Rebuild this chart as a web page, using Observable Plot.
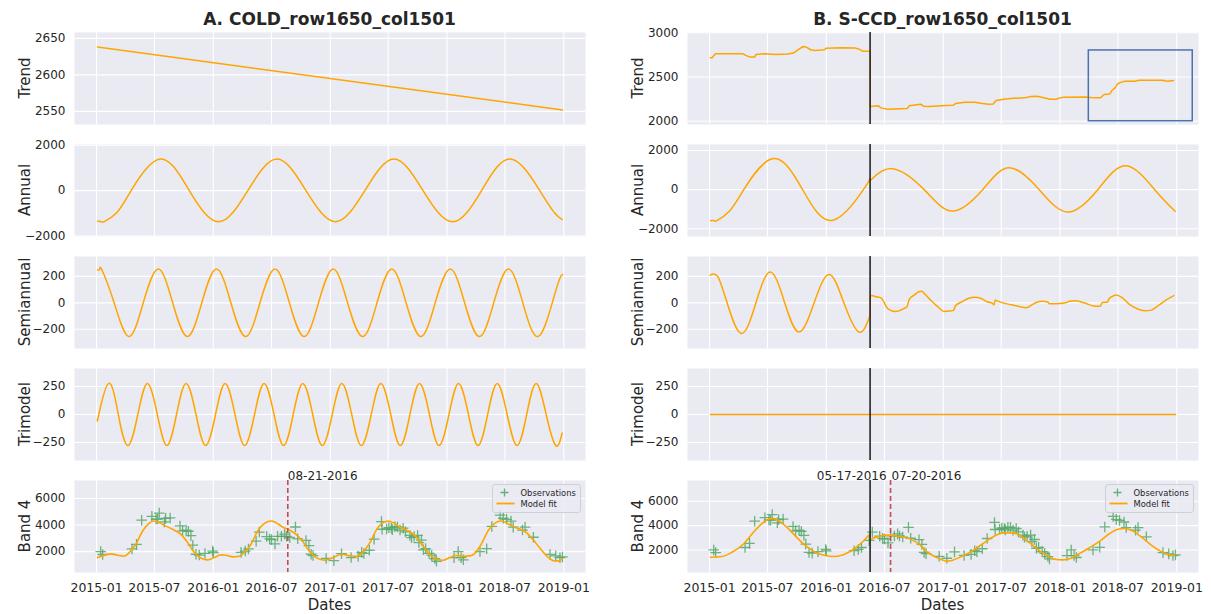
<!DOCTYPE html>
<html><head><meta charset="utf-8">
<script src="https://cdn.jsdelivr.net/npm/d3@7"></script>
<script src="https://cdn.jsdelivr.net/npm/@observablehq/plot@0.6"></script>
<style>
body{margin:0;background:#fff;font-family:"DejaVu Sans",sans-serif;}
#root{position:relative;width:1211px;height:614px;overflow:hidden;background:#fff;}
.abs{position:absolute;white-space:nowrap;color:#262626;}
.ttl{font-weight:bold;font-size:17px;line-height:22px;transform:translateX(-50%);}
.ylab{font-size:15px;line-height:18px;transform:translate(-50%,-50%) rotate(-90deg);}
.xlab{font-size:15px;line-height:18px;transform:translate(-50%,-50%);}
</style></head>
<body><div id="root"></div>
<script>
// ---------- data ----------
const xTicks = ["2015-01-01","2015-07-01","2016-01-01","2016-07-01","2017-01-01","2017-07-01","2018-01-01","2018-07-01","2019-01-01"];
const titles = ["A. COLD_row1650_col1501", "B. S-CCD_row1650_col1501"];
const rowLabels = ["Trend","Annual","Semiannual","Trimodel","Band 4"];
const ticksTrendA = [2550,2600,2650];
const ticksTrendB = [2000,2500,3000];
const ticksAnnual = [-2000,0,2000];
const ticksSemi = [-200,0,200];
const ticksTri = [-250,0,250];
const ticksBand = [2000,4000,6000];

const trendA = [["2015-01-04",2638],["2018-12-28",2552]];
const annualA = [["2015-01-04",-1342],["2015-01-11",-1363],["2015-01-18",-1370],["2015-01-25",-1363],["2015-03-05",-975],["2015-04-19",0],["2015-07-19",1390],["2015-10-18",0],["2016-01-18",-1370],["2016-04-18",0],["2016-07-18",1390],["2016-10-17",0],["2017-01-17",-1370],["2017-04-19",0],["2017-07-19",1390],["2017-10-18",0],["2018-01-18",-1370],["2018-04-19",0],["2018-07-19",1390],["2018-10-18",0],["2018-12-03",-975],["2018-12-27",-1275]];
const semiA = [["2015-01-04",248],["2015-01-11",255],["2015-01-18",248],["2015-02-25",0],["2015-04-12",-255],["2015-05-27",0],["2015-07-13",255],["2015-08-27",0],["2015-10-12",-255],["2015-11-26",0],["2016-01-11",255],["2016-02-25",0],["2016-04-11",-255],["2016-05-26",0],["2016-07-12",255],["2016-08-26",0],["2016-10-11",-255],["2016-11-25",0],["2017-01-10",255],["2017-02-24",0],["2017-04-12",-255],["2017-05-27",0],["2017-07-12",255],["2017-08-26",0],["2017-10-11",-255],["2017-11-25",0],["2018-01-11",255],["2018-02-25",0],["2018-04-12",-255],["2018-05-27",0],["2018-07-12",255],["2018-08-26",0],["2018-10-12",-255],["2018-11-26",0],["2018-12-19",180],["2018-12-28",215]];
const triA = [["2015-01-04",-40],["2015-01-08",0],["2015-02-08",278],["2015-03-10",0],["2015-04-09",-278],["2015-05-10",0],["2015-06-09",278],["2015-07-10",0],["2015-08-09",-278],["2015-09-08",0],["2015-10-08",278],["2015-11-08",0],["2015-12-08",-278],["2016-01-08",0],["2016-02-07",278],["2016-03-09",0],["2016-04-08",-278],["2016-05-09",0],["2016-06-08",278],["2016-07-09",0],["2016-08-08",-278],["2016-09-07",0],["2016-10-07",278],["2016-11-07",0],["2016-12-07",-278],["2017-01-07",0],["2017-02-06",278],["2017-03-09",0],["2017-04-08",-278],["2017-05-09",0],["2017-06-08",278],["2017-07-09",0],["2017-08-08",-278],["2017-09-07",0],["2017-10-07",278],["2017-11-07",0],["2017-12-07",-278],["2018-01-07",0],["2018-02-06",278],["2018-03-09",0],["2018-04-08",-278],["2018-05-08",0],["2018-06-07",278],["2018-07-08",0],["2018-08-08",-278],["2018-09-07",0],["2018-10-07",278],["2018-11-07",0],["2018-12-07",-278],["2018-12-27",-165]];
const modelA = [["2015-01-04",1550],["2015-01-30",1750],["2015-02-15",1825],["2015-03-08",1725],["2015-03-29",1650],["2015-04-13",1925],["2015-05-04",2550],["2015-05-25",3550],["2015-06-13",4100],["2015-06-27",4300],["2015-07-11",4250],["2015-08-01",3975],["2015-08-27",3675],["2015-09-22",3300],["2015-10-13",2675],["2015-11-03",1925],["2015-11-24",1500],["2015-12-15",1375],["2016-01-04",1550],["2016-01-25",1750],["2016-02-10",1725],["2016-03-02",1600],["2016-03-23",1650],["2016-04-07",1925],["2016-04-28",2550],["2016-05-19",3550],["2016-06-09",4125],["2016-06-30",4300],["2016-07-15",4175],["2016-08-05",3850],["2016-08-26",3625],["2016-09-16",3300],["2016-10-07",2750],["2016-10-28",2000],["2016-11-18",1550],["2016-12-14",1350],["2017-01-10",1550],["2017-02-05",1800],["2017-03-03",1675],["2017-03-24",1625],["2017-04-14",2000],["2017-05-05",2675],["2017-05-26",3675],["2017-06-15",4175],["2017-07-01",4300],["2017-07-17",4175],["2017-08-06",3850],["2017-09-01",3550],["2017-09-27",3100],["2017-10-18",2425],["2017-11-08",1750],["2017-11-29",1425],["2017-12-20",1350],["2018-01-09",1550],["2018-01-30",1700],["2018-02-20",1650],["2018-03-13",1675],["2018-03-28",1850],["2018-04-18",2550],["2018-05-09",3550],["2018-05-30",4125],["2018-06-20",4300],["2018-07-10",4100],["2018-08-05",3800],["2018-08-31",3550],["2018-09-26",2925],["2018-10-17",2300],["2018-11-12",1600],["2018-12-03",1300],["2018-12-16",1300],["2018-12-27",1425]];

const trendB = [["2015-01-03",2717],["2015-01-09",2717],["2015-01-19",2762],["2015-04-16",2762],["2015-04-24",2745],["2015-05-07",2725],["2015-05-22",2725],["2015-05-26",2755],["2015-06-21",2762],["2015-07-28",2755],["2015-09-02",2760],["2015-09-20",2770],["2015-10-02",2800],["2015-10-14",2830],["2015-10-23",2845],["2015-11-01",2835],["2015-11-13",2808],["2015-11-25",2800],["2015-12-26",2808],["2016-01-01",2826],["2016-02-18",2830],["2016-03-31",2828],["2016-04-12",2815],["2016-04-24",2792],["2016-05-15",2792],["2016-05-17",2790],["2016-05-17",2166],["2016-05-25",2170],["2016-06-12",2174],["2016-06-20",2151],["2016-07-12",2136],["2016-09-10",2143],["2016-09-16",2174],["2016-10-22",2192],["2016-10-31",2170],["2016-11-16",2166],["2017-01-09",2177],["2017-01-31",2180],["2017-02-08",2200],["2017-03-10",2215],["2017-04-09",2215],["2017-05-04",2200],["2017-05-22",2192],["2017-06-06",2196],["2017-06-15",2234],["2017-07-09",2249],["2017-08-08",2260],["2017-09-13",2264],["2017-10-02",2279],["2017-10-20",2283],["2017-11-01",2275],["2017-12-01",2249],["2017-12-19",2249],["2017-12-31",2264],["2018-01-12",2272],["2018-03-20",2275],["2018-04-19",2264],["2018-05-07",2264],["2018-05-19",2302],["2018-06-06",2309],["2018-06-12",2347],["2018-06-22",2377],["2018-06-30",2423],["2018-07-12",2442],["2018-07-24",2453],["2018-08-24",2453],["2018-09-05",2464],["2018-11-16",2464],["2018-12-04",2453],["2018-12-22",2460]];
const annualB1 = [["2015-01-04",-1575],["2015-01-10",-1582],["2015-01-17",-1585],["2015-01-24",-1580],["2015-03-03",-1115],["2015-04-18",0],["2015-07-20",1585],["2015-10-19",0],["2016-01-19",-1570],["2016-04-26",0],["2016-05-17",560]];
const annualB2 = [["2016-05-17",560],["2016-05-21",515],["2016-07-25",1072],["2016-11-02",0],["2017-01-29",-1089],["2017-05-04",0],["2017-07-26",1123],["2017-10-28",0],["2018-01-25",-1140],["2018-04-29",0],["2018-07-26",1225],["2018-10-24",0],["2018-12-27",-1106]];
const semiB1 = [["2015-01-03",209],["2015-01-10",216],["2015-01-17",216],["2015-01-26",200],["2015-02-03",160],["2015-02-25",0],["2015-04-10",-231],["2015-05-26",0],["2015-07-10",233],["2015-08-24",0],["2015-10-08",-221],["2015-11-24",0],["2016-01-10",214],["2016-02-25",0],["2016-04-12",-221],["2016-05-17",-94]];
const semiB2 = [["2016-05-17",-94],["2016-05-18",47],["2016-05-22",55],["2016-06-04",46],["2016-06-20",37],["2016-07-12",-45],["2016-08-05",-65],["2016-08-29",-45],["2016-09-10",-27],["2016-09-16",25],["2016-10-04",62],["2016-10-16",84],["2016-10-26",87],["2016-11-04",67],["2016-11-22",22],["2016-12-16",-32],["2017-01-03",-65],["2017-01-21",-62],["2017-02-02",-57],["2017-02-08",-22],["2017-02-26",5],["2017-03-22",35],["2017-04-09",42],["2017-04-28",35],["2017-05-16",10],["2017-06-03",-2],["2017-06-09",-15],["2017-06-12",22],["2017-06-17",17],["2017-07-09",-2],["2017-08-02",-15],["2017-08-26",-27],["2017-09-17",-37],["2017-10-02",-20],["2017-10-20",5],["2017-11-07",12],["2017-11-25",5],["2017-11-28",-7],["2017-12-19",-7],["2018-01-18",0],["2018-01-30",12],["2018-02-17",15],["2018-03-19",-2],["2018-04-19",-25],["2018-05-07",-25],["2018-05-13",2],["2018-05-29",5],["2018-06-03",30],["2018-06-12",47],["2018-06-25",60],["2018-07-13",42],["2018-08-06",-12],["2018-08-30",-45],["2018-09-23",-60],["2018-10-11",-57],["2018-11-05",-20],["2018-11-29",22],["2018-12-23",55]];
const triB = [["2015-01-04",0],["2018-12-28",0]];
const modelB1 = [["2015-01-04",1400],["2015-02-09",1460],["2015-03-12",1810],["2015-04-17",2490],["2015-05-24",3620],["2015-06-24",4380],["2015-07-15",4590],["2015-07-28",4510],["2015-08-26",3970],["2015-09-26",3160],["2015-10-28",2350],["2015-11-28",1810],["2015-12-29",1540],["2016-01-29",1460],["2016-03-01",1680],["2016-04-01",2160],["2016-04-27",2760],["2016-05-17",3330]];
const modelB2 = [["2016-05-17",2750],["2016-05-25",2950],["2016-06-12",3100],["2016-07-14",3215],["2016-08-04",3160],["2016-08-25",3080],["2016-09-20",2890],["2016-10-16",2490],["2016-11-06",1950],["2016-12-08",1410],["2016-12-28",1190],["2017-01-12",1080],["2017-01-28",1140],["2017-02-26",1460],["2017-03-29",1865],["2017-04-29",2405],["2017-05-31",3000],["2017-06-21",3296],["2017-07-11",3404],["2017-08-01",3404],["2017-08-22",3296],["2017-09-17",2810],["2017-10-13",2270],["2017-11-14",1649],["2017-12-15",1244],["2018-01-10",1190],["2018-02-05",1325],["2018-03-08",1784],["2018-04-09",2270],["2018-05-10",2810],["2018-06-05",3350],["2018-07-01",3701],["2018-07-22",3755],["2018-08-12",3620],["2018-09-12",3080],["2018-10-13",2405],["2018-11-14",1865],["2018-12-10",1595],["2018-12-26",1541]];
const observations = [["2015-01-14",2000],["2015-01-20",1780],["2015-04-22",2200],["2015-05-06",2540],["2015-05-22",4360],["2015-06-23",4650],["2015-07-06",4450],["2015-07-11",4450],["2015-07-16",4900],["2015-08-01",4230],["2015-08-05",4500],["2015-08-19",4530],["2015-09-19",3930],["2015-09-27",3560],["2015-10-08",3620],["2015-10-15",3530],["2015-10-23",3200],["2015-10-29",2480],["2015-11-08",1800],["2015-11-18",1740],["2015-12-06",1860],["2015-12-30",2040],["2016-01-01",1920],["2016-03-28",1940],["2016-04-10",2040],["2016-04-20",2200],["2016-05-14",2780],["2016-05-24",3470],["2016-06-16",3130],["2016-06-25",2950],["2016-07-01",2900],["2016-07-12",2580],["2016-07-20",3150],["2016-08-01",3150],["2016-08-11",3320],["2016-08-17",3150],["2016-08-27",3060],["2016-09-14",3850],["2016-09-21",2960],["2016-10-17",2840],["2016-10-26",2450],["2016-11-02",1800],["2016-11-08",1700],["2016-12-19",1480],["2017-01-12",1320],["2017-02-05",1840],["2017-03-07",1550],["2017-03-29",1640],["2017-04-09",1940],["2017-04-16",1860],["2017-05-03",2100],["2017-05-18",2940],["2017-06-10",4260],["2017-06-12",3680],["2017-06-26",3700],["2017-07-03",3800],["2017-07-11",3760],["2017-07-14",3650],["2017-07-22",3870],["2017-07-30",3850],["2017-08-07",3620],["2017-08-17",3760],["2017-08-24",3480],["2017-09-07",3215],["2017-09-12",3050],["2017-09-20",3130],["2017-10-01",3215],["2017-10-05",2680],["2017-10-13",2860],["2017-10-19",2135],["2017-10-26",2220],["2017-11-06",1865],["2017-11-14",1730],["2017-11-24",1460],["2017-11-29",1270],["2018-01-23",1540],["2018-02-05",2000],["2018-02-14",1540],["2018-02-21",1380],["2018-04-14",2000],["2018-05-05",2216],["2018-05-21",3890],["2018-06-16",4750],["2018-06-26",4510],["2018-07-06",4430],["2018-07-20",4295],["2018-07-27",3836],["2018-08-25",3620],["2018-09-02",3836],["2018-09-28",3080],["2018-11-19",1784],["2018-12-07",1676],["2018-12-20",1541],["2018-12-28",1595]];
const breakDate = "2016-05-17";
const changeA = "2016-08-21";
const changeB = "2016-07-20";
const zoomBox = [{x1:"2018-04-01", x2:"2019-02-20", y1:2000, y2:2800}];

// ---------- layout ----------
const root = document.getElementById("root");
const D = s => new Date(s + "T00:00:00Z");
const X_DOMAIN = [D("2014-10-24"), D("2019-03-10")];
const ORANGE = "#ffa500", GREEN = "#55a868", RED = "#c44e52", BLUE = "#4c72b0", BG = "#eaeaf2";
const PANEL_W = 511, PANEL_H = 92;
const colLeft = [74, 687];
const rowTop = r => 32 + r * 112;
const xy = {x: d => D(d[0]), y: d => d[1]};
const numFmt = d3.format("d");
const usDate = d => d.slice(5) + "-" + d.slice(0, 4);

function addPanel({col, row, yDomain, yTicks, marks}) {
  const xAxis = row === 4;
  const mL = 70, mR = 12, mT = 22, mB = xAxis ? 34 : 6;
  const all = [
    Plot.frame({fill: BG, stroke: "none"}),
    Plot.ruleX(xTicks.map(D), {stroke: "#fff", strokeWidth: 1.1}),
    Plot.ruleY(yTicks, {stroke: "#fff", strokeWidth: 1.1}),
    Plot.axisY({ticks: yTicks, tickSize: 0, tickPadding: 9, fontSize: 12, tickFormat: numFmt, label: null}),
    ...(xAxis ? [Plot.axisX({ticks: xTicks.map(D), tickSize: 0, tickPadding: 11, fontSize: 12.5, tickFormat: d3.utcFormat("%Y-%m"), label: null})] : []),
    ...marks
  ];
  const svg = Plot.plot({
    width: PANEL_W + mL + mR, height: PANEL_H + mT + mB,
    marginLeft: mL, marginRight: mR, marginTop: mT, marginBottom: mB,
    x: xAxis ? {type: "utc", domain: X_DOMAIN} : {type: "utc", domain: X_DOMAIN, axis: null},
    y: {domain: yDomain},
    style: {background: "transparent", color: "#262626", fontFamily: "DejaVu Sans, sans-serif", fontSize: "12px", overflow: "visible"},
    marks: all
  });
  svg.style.position = "absolute";
  svg.style.left = (colLeft[col] - mL) + "px";
  svg.style.top = (rowTop(row) - mT) + "px";
  root.appendChild(svg);
}

const line = (data, curve, extra = {}) => Plot.line(data, {...xy, stroke: ORANGE, strokeWidth: 1.5, curve, ...extra});
const breakRule = () => Plot.ruleX([breakDate], {x: d => D(d), stroke: "#262626", strokeWidth: 1.6});
const obsDots = () => Plot.dot(observations, {...xy, symbol: "plus", r: 3.5, stroke: GREEN, strokeWidth: 1.3, strokeOpacity: 0.85});

// Column A
addPanel({col: 0, row: 0, yDomain: [2532, 2658], yTicks: ticksTrendA, marks: [line(trendA, "linear")]});
addPanel({col: 0, row: 1, yDomain: [-2020, 2030], yTicks: ticksAnnual, marks: [line(annualA, "natural")]});
addPanel({col: 0, row: 2, yDomain: [-345, 350], yTicks: ticksSemi, marks: [line(semiA, "natural")]});
addPanel({col: 0, row: 3, yDomain: [-411, 411], yTicks: ticksTri, marks: [line(triA, "natural")]});
addPanel({col: 0, row: 4, yDomain: [425, 7350], yTicks: ticksBand, marks: [
  obsDots(),
  line(modelA, "monotone-x", {strokeWidth: 1.6}),
  Plot.ruleX([changeA], {x: d => D(d), stroke: RED, strokeWidth: 1.6, strokeDasharray: "5,3"}),
  Plot.text([changeA], {x: d => D(d), text: usDate, frameAnchor: "top", textAnchor: "start", lineAnchor: "bottom", dy: -1, fontSize: 12, fill: "#262626"})
]});

// Column B
addPanel({col: 1, row: 0, yDomain: [1963, 3003], yTicks: ticksTrendB, marks: [
  line(trendB, "linear"),
  breakRule(),
  Plot.rect(zoomBox, {x1: d => D(d.x1), x2: d => D(d.x2), y1: "y1", y2: "y2", fill: "none", stroke: BLUE, strokeWidth: 1.5})
]});
addPanel({col: 1, row: 1, yDomain: [-2393, 2306], yTicks: ticksAnnual, marks: [
  line(annualB1, "natural"), line(annualB2, "natural"), breakRule()
]});
addPanel({col: 1, row: 2, yDomain: [-345, 350], yTicks: ticksSemi, marks: [
  line(semiB1, "natural"), line(semiB2, "monotone-x"), breakRule()
]});
addPanel({col: 1, row: 3, yDomain: [-411, 411], yTicks: ticksTri, marks: [line(triB, "linear"), breakRule()]});
addPanel({col: 1, row: 4, yDomain: [150, 7700], yTicks: ticksBand, marks: [
  obsDots(),
  line(modelB1, "monotone-x", {strokeWidth: 1.6}),
  line(modelB2, "monotone-x", {strokeWidth: 1.6}),
  breakRule(),
  Plot.ruleX([changeB], {x: d => D(d), stroke: RED, strokeWidth: 1.6, strokeDasharray: "5,3"}),
  Plot.text([changeB], {x: d => D(d), text: usDate, frameAnchor: "top", textAnchor: "start", lineAnchor: "bottom", dy: -1, dx: 1, fontSize: 12, fill: "#262626"}),
  Plot.text([breakDate], {x: () => D(changeB), text: usDate, frameAnchor: "top", textAnchor: "end", lineAnchor: "bottom", dy: -1, dx: -4, fontSize: 12, fill: "#262626"})
]});

// ---------- text: titles, y labels, x labels ----------
function addDiv(cls, text, left, top) {
  const d = document.createElement("div");
  d.className = "abs " + cls;
  d.textContent = text;
  d.style.left = left + "px";
  d.style.top = top + "px";
  root.appendChild(d);
}
[0, 1].forEach(c => {
  const cx = colLeft[c] + PANEL_W / 2;
  addDiv("ttl", titles[c], cx, 8);
  addDiv("xlab", "Dates", cx, 605);
  rowLabels.forEach((lab, r) => addDiv("ylab", lab, colLeft[c] - 49, rowTop(r) + PANEL_H / 2));
});

// ---------- legends ----------
function addLegend(left, top) {
  const ns = "http://www.w3.org/2000/svg";
  const s = document.createElementNS(ns, "svg");
  s.setAttribute("width", 90); s.setAttribute("height", 30);
  s.style.position = "absolute"; s.style.left = left + "px"; s.style.top = top + "px";
  s.innerHTML =
    `<rect x="0.5" y="0.5" width="88" height="28" rx="2.5" fill="rgba(234,234,242,0.8)" stroke="#cfcfd8"/>` +
    `<path d="M8.5 8.5h8M12.5 4.5v8" stroke="${GREEN}" stroke-width="1.3" stroke-opacity="0.9"/>` +
    `<line x1="4.5" x2="22.5" y1="19.5" y2="19.5" stroke="${ORANGE}" stroke-width="1.8"/>` +
    `<text x="28.5" y="11.5" font-size="8.4" fill="#262626" font-family="DejaVu Sans">Observations</text>` +
    `<text x="28.5" y="22.5" font-size="8.4" fill="#262626" font-family="DejaVu Sans">Model fit</text>`;
  root.appendChild(s);
}
addLegend(492, 484);
addLegend(1105, 484);
</script>
</body></html>
